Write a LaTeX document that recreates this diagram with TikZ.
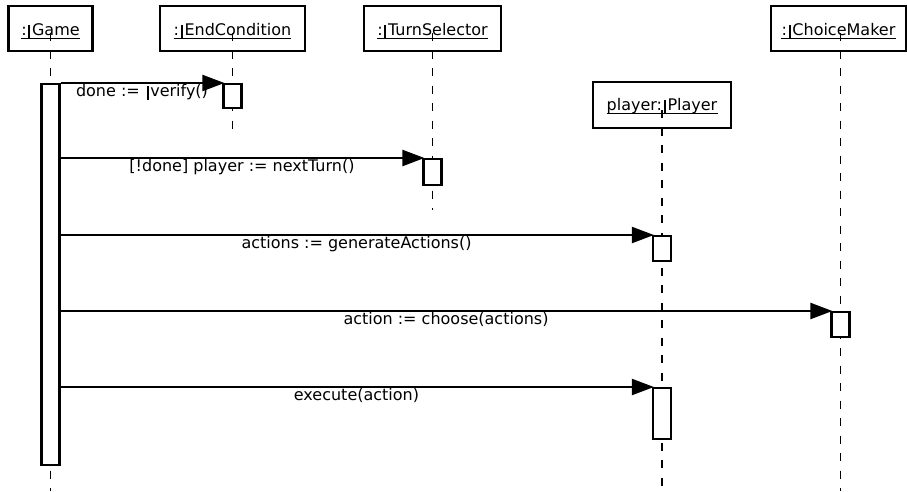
\documentclass[tikz,border=0pt]{standalone}
\usepackage{fontspec}
\setmainfont{DejaVu Sans}
\usetikzlibrary{arrows.meta}
% thick separator bar used after the colon in object names
\newcommand\obar{\makebox[0.337em]{\rule[-3pt]{1.8pt}{13.5pt}}}
\begin{document}
\begin{tikzpicture}[x=1pt,y=-1pt,
  font=\fontsize{16}{19}\selectfont,
  headbox/.style={draw, line width=2.2pt, minimum height=45pt, inner sep=0pt},
  headtext/.style={anchor=base, inner sep=0pt},
  uline/.style={line width=1pt},
  life/.style={line width=1.1pt, dash pattern=on 8pt off 9.5pt},
  actbar/.style={draw, fill=white, line width=2.2pt, minimum width=18pt, inner sep=0pt, anchor=north},
  msg/.style={line width=2.2pt, shorten >=-2pt, -{Triangle[length=22pt,width=16pt]}},
  msgtext/.style={anchor=base, inner sep=0pt}]
\useasboundingbox (0,0) rectangle (907,491);

% object heads
\node[headbox, minimum width=84pt]  (gameBox)   at (50.5,28.5) {};
\node[headbox, minimum width=145pt] (endBox)    at (232.5,28.5) {};
\node[headbox, minimum width=137pt] (turnBox)   at (432.5,28.5) {};
\node[headbox, minimum width=138pt, minimum height=46pt] (playerBox) at (662,105) {};
\node[headbox, minimum width=135pt] (choiceBox) at (838.5,28.5) {};

\node[headtext] (gameLbl)   at (50.5,35)  {:\obar Game};
\node[headtext] (endLbl)    at (232.5,35) {:\obar EndCondition};
\node[headtext] (turnLbl)   at (432.5,35) {:\obar TurnSelector};
\node[headtext] (playerLbl) at (662,110)  {player:\obar Player};
\node[headtext] (choiceLbl) at (838.5,35) {:\obar ChoiceMaker};

\foreach \n in {gameLbl,endLbl,turnLbl,playerLbl,choiceLbl}
  \draw[uline] ([yshift=-3pt]\n.base west) -- ([yshift=-3pt]\n.base east);

% lifelines
\coordinate (gameEnd)   at (50.5,491);
\coordinate (endEnd)    at (232.5,134);
\coordinate (turnEnd)   at (432.5,210);
\coordinate (playerEnd) at (662,491);
\coordinate (choiceEnd) at (840.5,491);
\draw[life] (50.5,33) -- (gameEnd);
\draw[life] (232.5,33) -- (endEnd);
\draw[life] (432.5,33) -- (turnEnd);
\draw[life] (662,110) -- (playerEnd);
\draw[life] (840.5,33) -- (choiceEnd);

% activations
\node[actbar, minimum height=381pt] (gameAct)    at (50.5,83) {};
\node[actbar, minimum height=24pt]  (endAct)     at (232.5,83) {};
\node[actbar, minimum height=26pt]  (turnAct)    at (432.5,158) {};
\node[actbar, minimum height=25pt]  (playerAct1) at (662,235) {};
\node[actbar, minimum height=25pt]  (choiceAct)  at (840.5,311) {};
\node[actbar, minimum height=51pt]  (playerAct2) at (662,387) {};

% messages
\draw[msg] (gameAct.north east) -- (endAct.north west);
\draw[msg] (gameAct.east |- turnAct.north west) -- (turnAct.north west);
\draw[msg] (gameAct.east |- playerAct1.north west) -- (playerAct1.north west);
\draw[msg] (gameAct.east |- choiceAct.north west) -- (choiceAct.north west);
\draw[msg] (gameAct.east |- playerAct2.north west) -- (playerAct2.north west);

\node[msgtext] (m1) at (142,96.5)   {done := \obar verify()};
\node[msgtext] (m2) at (242,171.5)  {[!done] player := nextTurn()};
\node[msgtext] (m3) at (356.5,248.5) {actions := generateActions()};
\node[msgtext] (m4) at (446,324.5)  {action := choose(actions)};
\node[msgtext] (m5) at (356.5,400.5) {execute(action)};
\end{tikzpicture}
\end{document}
